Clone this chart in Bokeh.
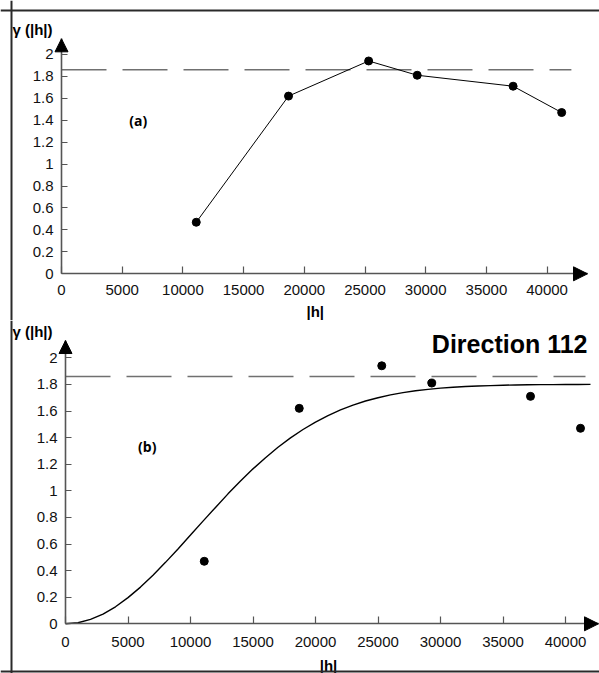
from bokeh.plotting import figure
from bokeh.layouts import column
from bokeh.models import FixedTicker, Label, Arrow, NormalHead, Range1d, Span
from bokeh.embed import file_html
from bokeh.resources import INLINE

# ---- data ----
h_lag = [11100, 18700, 25300, 29300, 37200, 41200]
gamma_exp = [0.47, 1.62, 1.94, 1.81, 1.71, 1.47]
sill = 1.86

model_h = [0, 1000, 2000, 3000, 4000, 5000, 6000, 7000, 8000, 9000, 10000,
           11000, 12000, 13000, 14000, 15000, 16000, 17000, 18000, 19000, 20000,
           21000, 22000, 23000, 24000, 25000, 26000, 27000, 28000, 29000, 30000,
           31000, 32000, 33000, 34000, 35000, 36000, 37000, 38000, 39000, 40000,
           41000, 42000]
model_gamma = [0.0, 0.008, 0.033, 0.073, 0.128, 0.197, 0.276, 0.365, 0.462, 0.563, 0.667,
               0.772, 0.875, 0.977, 1.073, 1.165, 1.249, 1.327, 1.398, 1.461, 1.517,
               1.566, 1.608, 1.644, 1.675, 1.700, 1.721, 1.738, 1.752, 1.763, 1.772,
               1.779, 1.784, 1.788, 1.791, 1.794, 1.796, 1.797, 1.798, 1.798, 1.799,
               1.799, 1.800]

x_ticks = [0, 5000, 10000, 15000, 20000, 25000, 30000, 35000, 40000]
y_ticks = [0, 0.2, 0.4, 0.6, 0.8, 1, 1.2, 1.4, 1.6, 1.8, 2]
y_tick_labels = ["0", "0.2", "0.4", "0.6", "0.8", "1", "1.2", "1.4", "1.6", "1.8", "2"]

y_title = "γ (|h|)"
x_title = "|h|"
panel_tags = ["(a)", "(b)"]
direction_title = "Direction 112"

AX = "#555555"
BORDER = "#2a2a2a"
FONT = "Liberation Sans"


def make_panel(width, height, xr, yr, x_tip, y_tip, std_x):
    p = figure(width=width, height=height, output_backend="svg", toolbar_location=None,
               x_range=Range1d(*xr), y_range=Range1d(*yr),
               min_border_left=0, min_border_right=0,
               min_border_top=0, min_border_bottom=0,
               background_fill_color="white", border_fill_color="white")
    p.outline_line_color = None
    p.grid.visible = False
    p.xaxis.ticker = FixedTicker(ticks=x_ticks)
    p.yaxis.ticker = FixedTicker(ticks=y_ticks)
    p.yaxis.major_label_overrides = {t: s for t, s in zip(y_ticks, y_tick_labels)}
    p.xaxis.fixed_location = 0
    p.yaxis.fixed_location = 0
    p.xaxis.bounds = (0, x_tip)
    p.yaxis.bounds = (0, y_tip)
    for ax in (p.xaxis[0], p.yaxis[0]):
        ax.axis_line_color = AX
        ax.axis_line_width = 1.6
        ax.major_tick_line_color = AX
        ax.major_tick_line_width = 1.2
        ax.major_tick_out = 0
        ax.minor_tick_line_color = None
        ax.major_label_text_font = FONT
        ax.major_label_text_font_size = "15px"
        ax.major_label_text_color = "#111111"
    p.xaxis.major_tick_in = 7
    p.yaxis.major_tick_in = 6
    p.yaxis.major_label_standoff = 8
    p.xaxis.major_label_standoff = std_x
    # axis arrow heads
    p.add_layout(Arrow(end=NormalHead(size=13, fill_color="black", line_color="black"),
                       x_start=0, y_start=y_tip - 0.12, x_end=0, y_end=y_tip,
                       line_alpha=0))
    p.add_layout(Arrow(end=NormalHead(size=14, fill_color="black", line_color="black"),
                       x_start=x_tip - 1400, y_start=0, x_end=x_tip, y_end=0,
                       line_alpha=0))
    return p


def label(p, x, y, text, font, size, align, baseline):
    p.add_layout(Label(x=x, y=y, text=text, text_font=font, text_font_style="bold",
                       text_font_size=size, text_color="black",
                       text_align=align, text_baseline=baseline))


# ---- top panel (a) ----
p1 = make_panel(599, 320, (-5025, 44316), (-0.4257, 2.4913), 43330, 2.142, 11)
sill_end_a = 42000
p1.line([0, sill_end_a], [sill, sill], line_dash="45 16", line_color="#707070", line_width=1.5)
p1.line(h_lag, gamma_exp, line_color="black", line_width=1)
p1.scatter(h_lag, gamma_exp, size=8, color="black")
label(p1, 6320, 1.40, panel_tags[0], "Open Sans", "14px", "center", "middle")
label(p1, -4036, 2.30, y_title, FONT, "15px", "left", "top")
label(p1, 20900, -0.262, x_title, FONT, "15px", "center", "top")
p1.add_layout(Span(location=-4119, dimension="height", line_color=BORDER, line_width=2))
p1.add_layout(Span(location=2.400, dimension="width", line_color=BORDER, line_width=2))

# ---- bottom panel (b) ----
p2 = make_panel(599, 353, (-5200, 42720), (-0.3737, 2.2805), 42640, 2.13, 13)
sill_end_b = 41600
p2.line([0, sill_end_b], [sill, sill], line_dash="45 16", line_color="#707070", line_width=1.5)
p2.line(model_h, model_gamma, line_color="black", line_width=1.4)
p2.scatter(h_lag, gamma_exp, size=8, color="black")
label(p2, 6540, 1.335, panel_tags[1], "Open Sans", "14px", "center", "middle")
label(p2, -4240, 2.258, y_title, FONT, "15px", "left", "top")
label(p2, 21040, -0.251, x_title, FONT, "15px", "center", "top")
label(p2, 41760, 2.105, direction_title, FONT, "25px", "right", "alphabetic")
p2.add_layout(Span(location=-4320, dimension="height", line_color=BORDER, line_width=2))
p2.add_layout(Span(location=-0.3586, dimension="width", line_color=BORDER, line_width=2))

layout = column(p1, p2, spacing=0)

open("out.html", "w").write(file_html(layout, INLINE))
